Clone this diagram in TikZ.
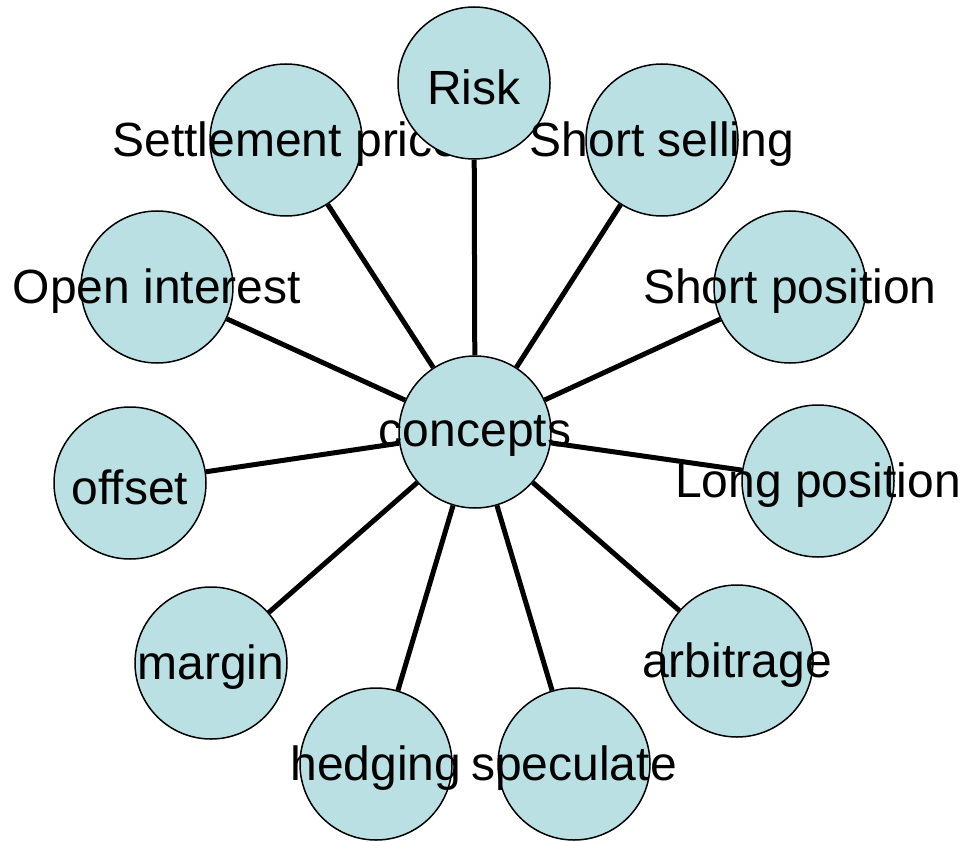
\documentclass[tikz,border=0pt]{standalone}
\usepackage{fontspec}
\setmainfont{Liberation Sans}
\usetikzlibrary{backgrounds}
\definecolor{bubble}{RGB}{187,224,227}
\begin{document}
\begin{tikzpicture}[x=1pt,y=-1pt,
  bub/.style={circle,draw=black,line width=1.5pt,fill=bubble,minimum size=152pt,inner sep=0pt},
  lbl/.style={font=\fontsize{48}{58}\selectfont,inner sep=0pt,yshift=-4pt},
  spoke/.style={line width=5pt,draw=black}]
\useasboundingbox (0,0) rectangle (965,842);
\node[bub,label={[lbl]center:concepts}] (c) at (475,432) {};
\node[bub,label={[lbl]center:Settlement price}] (set) at (286,140) {};
\node[bub,label={[lbl]center:Risk}] (risk) at (474,83) {};
\node[bub,label={[lbl]center:Short selling}] (ss) at (662,140) {};
\node[bub,label={[lbl]center:Short position}] (sp) at (790,287) {};
\node[bub,label={[lbl]center:Long position}] (lp) at (818,481) {};
\node[bub,label={[lbl]center:arbitrage}] (arb) at (737,661) {};
\node[bub,label={[lbl]center:speculate}] (spec) at (574,764) {};
\node[bub,label={[lbl]center:hedging}] (hed) at (376,764) {};
\node[bub,label={[lbl]center:margin}] (mar) at (211,663) {};
\node[bub,label={[lbl]center:offset}] (off) at (130,483) {};
\node[bub,label={[lbl]center:Open interest}] (oi) at (157,287) {};
\begin{scope}[on background layer]
\foreach \n in {set,risk,ss,sp,lp,arb,spec,hed,mar,off,oi}
  \draw[spoke] (c) -- (\n);
\end{scope}
\end{tikzpicture}
\end{document}
